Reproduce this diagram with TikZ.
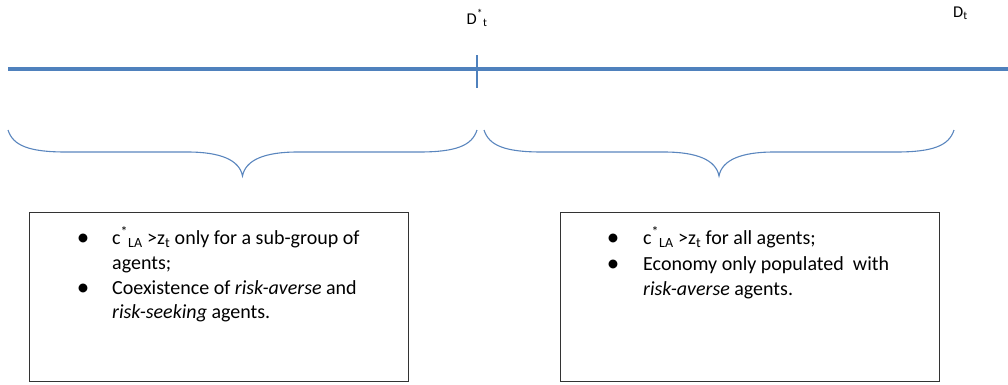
\documentclass[tikz,border=0pt]{standalone}
\usepackage{fontspec}
\setmainfont{Carlito}
\definecolor{axisblue}{RGB}{79,129,189}
\definecolor{braceblue}{RGB}{90,134,190}
\tikzset{
    axisline/.style={draw=axisblue,line width=4.5pt},
    tickline/.style={draw=axisblue,line width=2.2pt},
    bracepath/.style={draw=braceblue,line width=1.1pt},
    infobox/.style={draw=black!80,line width=1.1pt,inner sep=0pt,
        minimum width=379pt,minimum height=169pt,anchor=north west},
    lbl/.style={font=\fontsize{16.5}{19}\selectfont,text=black,inner sep=0pt},
    itemtxt/.style={font=\fontsize{20}{24}\selectfont,text=black,inner sep=0pt,anchor=base west},
    bul/.style={font=\fontsize{25}{28}\selectfont,inner sep=0pt,anchor=base}
}
\begin{document}
\begin{tikzpicture}[x=1pt,y=-1pt]
    \useasboundingbox (0,0) rectangle (1008,384);

    % Draw axis and threshold tick
    \draw[axisline] (8,69) coordinate (axL) -- (1008,69) coordinate (axR);
    \draw[tickline] (477,55) coordinate (tickT) -- (477,88) coordinate (tickB);

    \node[lbl,anchor=base] (dstar) at (477,24) {D\textsuperscript{*}\textsubscript{t}};
    \node[lbl,anchor=base west] (dt) at (953,17) {D\textsubscript{t}};

    % Braces under the two intervals
    \foreach \bl/\br in {8/477,484/954}{
        \pgfmathsetmacro\bm{(\bl+\br)/2}
        \draw[bracepath] (\bl,130) .. controls (\bl+5,146) and (\bl+22,152) .. (\bl+58,152)
            -- (\bm-55,152) .. controls (\bm-22,152) and (\bm-3,160) .. (\bm,176)
            .. controls (\bm+3,160) and (\bm+22,152) .. (\bm+55,152)
            -- (\br-58,152) .. controls (\br-22,152) and (\br-5,146) .. (\br,130);
    }

    % Left box
    \node[infobox] (boxL) at (29,212) {};
    \node[bul] (bulL1) at (83,245) {\textbullet};
    \node[itemtxt] (txtL1) at (112,244) {c\textsuperscript{*}\textsubscript{LA} >z\textsubscript{t} only for a sub-group\ of};
    \node[itemtxt] (txtL2) at (112,269) {agents;};
    \node[bul] (bulL2) at (83,295) {\textbullet};
    \node[itemtxt] (txtL3) at (112,294) {Coexistence of \textit{risk-averse} and};
    \node[itemtxt] (txtL4) at (112,318) {\textit{risk-seeking} agents.};

    % Right box
    \node[infobox] (boxR) at (560,212) {};
    \node[bul] (bulR1) at (613,245) {\textbullet};
    \node[itemtxt] (txtR1) at (643,244) {c\textsuperscript{*}\textsubscript{LA} >z\textsubscript{t} for all agents;};
    \node[bul] (bulR2) at (613,271) {\textbullet};
    \node[itemtxt] (txtR2) at (643,270) {Economy only populated\ \ with};
    \node[itemtxt] (txtR3) at (643,295) {\textit{risk-averse} agents.};

\end{tikzpicture}
\end{document}
